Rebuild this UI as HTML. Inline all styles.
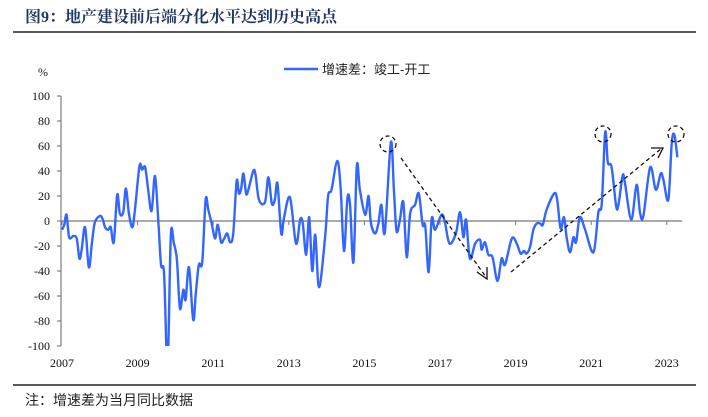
<!DOCTYPE html>
<html><head><meta charset="utf-8"><style>
body{margin:0;background:#fff;width:708px;height:417px;overflow:hidden;font-family:"Liberation Serif","Noto Serif CJK SC",serif;}
svg{display:block}
</style></head><body>
<svg width="708" height="417">
<text x="25" y="22" font-size="16" font-weight="bold" fill="#1f3864" font-family="'Liberation Serif','Noto Serif CJK SC',serif">图9：地产建设前后端分化水平达到历史高点</text>
<line x1="13" y1="32" x2="696" y2="32" stroke="#222" stroke-width="1.5"/>
<text x="38" y="76" font-size="12" fill="#222">%</text>
<g>
<line x1="284" y1="69" x2="318" y2="69" stroke="#3366ff" stroke-width="2.5"/>
<text x="322" y="74" font-size="13" fill="#222" font-family="'Liberation Sans','Noto Sans CJK SC',sans-serif">增速差：竣工-开工</text>
</g>
<g id="axes"></g>
<g id="plot"></g>
<g id="annot" fill="none" stroke="#111" stroke-width="1.3" stroke-dasharray="4,3"></g>
<line x1="13" y1="385" x2="696" y2="385" stroke="#222" stroke-width="1.5"/>
<text x="25" y="405" font-size="14" fill="#222" font-family="'Liberation Sans','Noto Sans CJK SC',sans-serif">注：增速差为当月同比数据</text>
</svg>
<script>
const yTicks=[100,80,60,40,20,0,-20,-40,-60,-80,-100];
const xTickYears=[2007,2009,2011,2013,2015,2017,2019,2021,2023];
const dates=[2007.0,2007.06,2007.12,2007.19,2007.30,2007.39,2007.46,2007.52,2007.61,2007.71,2007.79,2007.87,2008.0,2008.07,2008.14,2008.22,2008.29,2008.37,2008.46,2008.53,2008.62,2008.69,2008.77,2008.86,2008.93,2009.05,2009.12,2009.20,2009.28,2009.37,2009.46,2009.55,2009.62,2009.70,2009.77,2009.81,2009.88,2009.96,2010.04,2010.12,2010.21,2010.27,2010.36,2010.47,2010.54,2010.62,2010.71,2010.80,2010.87,2010.96,2011.05,2011.12,2011.21,2011.29,2011.37,2011.45,2011.53,2011.62,2011.68,2011.74,2011.80,2011.87,2011.93,2012.06,2012.12,2012.21,2012.37,2012.46,2012.55,2012.63,2012.70,2012.80,2012.87,2013.03,2013.19,2013.30,2013.37,2013.46,2013.54,2013.62,2013.70,2013.80,2013.96,2014.04,2014.13,2014.28,2014.37,2014.46,2014.55,2014.62,2014.71,2014.80,2014.88,2015.02,2015.11,2015.17,2015.28,2015.37,2015.45,2015.54,2015.70,2015.78,2015.85,2015.94,2016.03,2016.12,2016.21,2016.34,2016.44,2016.54,2016.61,2016.70,2016.78,2016.87,2017.04,2017.13,2017.25,2017.42,2017.53,2017.62,2017.69,2017.79,2017.93,2018.06,2018.10,2018.19,2018.28,2018.39,2018.52,2018.63,2018.72,2018.90,2019.03,2019.13,2019.22,2019.29,2019.38,2019.47,2019.56,2019.65,2019.72,2019.82,2020.02,2020.10,2020.19,2020.28,2020.35,2020.44,2020.53,2020.60,2020.70,2020.84,2021.06,2021.19,2021.28,2021.37,2021.44,2021.54,2021.66,2021.72,2021.83,2021.89,2022.06,2022.20,2022.29,2022.38,2022.56,2022.71,2022.84,2022.91,2023.04,2023.13,2023.20,2023.28];
const values=[-7,-3,5,-13,-12,-14,-30,-23,-5,-37,-18,-1,4,2,-5,-7,-5,-17,21,6,7,26,6,-5,9,44,41,43,25,8,36,-1,-35,-42,-109,-105,-11,-18,-31,-70,-55,-63,-37,-79,-58,-35,-33,17,9,-2,-14,-3,-17,-14,-10,-17,-10,32,22,26,38,22,25,40,37,17,15,35,14,17,30,-10,2,19,-18,1,-2,-27,3,-40,-11,-53,-13,20,25,48,27,-24,18,13,-33,44,25,5,20,-1,-10,-2,13,-9,63,25,-8,1,15,-29,6,13,22,-3,-4,-41,2,-7,5,-1,-18,-10,7,-13,1,-30,-18,-15,-23,-17,-27,-29,-48,-30,-35,-14,-18,-26,-24,-26,-21,-7,-2,-2,-3,9,22,17,-6,3,-13,-25,-13,-17,3,-7,-25,7,14,71,47,43,12,13,36,31,1,29,7,4,43,25,38,33,17,62,69,51];
const X0=62,XPY=37.8,Y0=221,YPU=1.25,TOP=96,BOT=346,RIGHT=682;
const xs=d=>X0+(d-2007)*XPY, ys=v=>Y0-v*YPU;
const NS='http://www.w3.org/2000/svg';
function mk(t,a,p){const e=document.createElementNS(NS,t);for(const k in a)e.setAttribute(k,a[k]);p.appendChild(e);return e;}
const ax=document.getElementById('axes');
const yl=mk('line',{x1:X0-1,y1:TOP,x2:X0-1,y2:BOT,stroke:'#666','stroke-width':1},ax);


yTicks.forEach(v=>{
 const tk=mk('line',{x1:X0-5,y1:ys(v),x2:X0-1,y2:ys(v),stroke:'#666'},ax);
 
 
 const t=mk('text',{x:X0-12,y:ys(v)+4,'font-size':12,'text-anchor':'end',fill:'#111'},ax);t.textContent=v;
 
 
});
const zl=mk('line',{x1:X0-1,y1:Y0,x2:RIGHT,y2:Y0,stroke:'#777','stroke-width':1.2},ax);


xTickYears.forEach(y=>{
 const tk=mk('line',{x1:xs(y),y1:Y0,x2:xs(y),y2:Y0+4,stroke:'#777'},ax);
 
 
 const t=mk('text',{x:xs(y),y:367,'font-size':12,'text-anchor':'middle',fill:'#111'},ax);t.textContent=y;
 
 
});
const defs=mk('defs',{},document.querySelector('svg'));
const cp=mk('clipPath',{id:'clip'},defs);mk('rect',{x:X0-1,y:TOP-5,width:RIGHT-X0+10,height:BOT-TOP+5},cp);
const pts=dates.map((d,i)=>[xs(d),ys(values[i])]);
let p='M'+pts[0][0]+','+pts[0][1];
for(let i=0;i<pts.length-1;i++){
 const p0=pts[Math.max(0,i-1)],p1=pts[i],p2=pts[i+1],p3=pts[Math.min(pts.length-1,i+2)],k=1/6;
 p+=` C${p1[0]+(p2[0]-p0[0])*k},${p1[1]+(p2[1]-p0[1])*k} ${p2[0]-(p3[0]-p1[0])*k},${p2[1]-(p3[1]-p1[1])*k} ${p2[0]},${p2[1]}`;
}
const ln=mk('path',{d:p,fill:'none',stroke:'#3366ff','stroke-width':2.4,'stroke-linejoin':'round','clip-path':'url(#clip)'},document.getElementById('plot'));


const an=document.getElementById('annot');
[[388,144],[603,134],[676,134]].forEach(c=>{
 const e=mk('circle',{cx:c[0],cy:c[1],r:8},an);
 
 
});
const a1=mk('line',{x1:401,y1:158,x2:486,y2:277},an);


mk('polyline',{points:'477,272 487,279 487,267','stroke-dasharray':'none'},an);
const a2=mk('line',{x1:511,y1:272,x2:662,y2:148},an);


mk('polyline',{points:'651,148 663,148 658,158','stroke-dasharray':'none'},an);
</script>
</body></html>
